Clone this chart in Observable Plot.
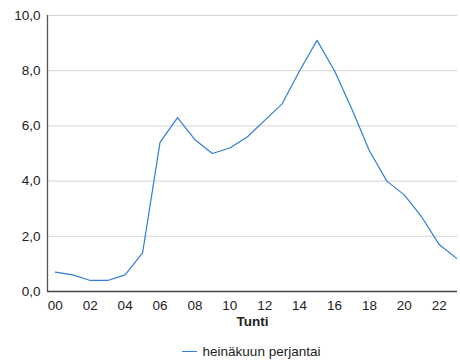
<!DOCTYPE html>
<html>
<head>
<meta charset="utf-8">
<script src="https://cdn.jsdelivr.net/npm/d3@7"></script>
<script src="https://cdn.jsdelivr.net/npm/@observablehq/plot@0.6"></script>
<style>
  html, body { margin: 0; padding: 0; background: #fff; }
  body { width: 460px; height: 362px; overflow: hidden; font-family: "Liberation Sans", Arial, sans-serif; }
  #legend { height: 30px; display: flex; justify-content: center; align-items: center; font-size: 13.5px; color: #222; padding-top: 8px; padding-left: 42px; box-sizing: border-box; }
  #legend .sw { display: inline-block; width: 15px; height: 0; border-top: 1.2px solid #2f7ed8; margin-right: 6px; }
</style>
</head>
<body>
<div id="chart"></div>
<div id="legend"><span class="sw"></span><span>heinäkuun perjantai</span></div>
<script>
const hours = [0,1,2,3,4,5,6,7,8,9,10,11,12,13,14,15,16,17,18,19,20,21,22,23];
const values = [0.7,0.6,0.4,0.4,0.6,1.4,5.4,6.3,5.5,5.0,5.2,5.6,6.2,6.8,8.0,9.1,8.0,6.6,5.1,4.0,3.5,2.7,1.7,1.2];
const xTicks = [0,2,4,6,8,10,12,14,16,18,20,22];
const yTicks = [0,2,4,6,8,10];
const seriesName = "heinäkuun perjantai";
const xLabel = "Tunti";

const data = hours.map((h, i) => ({hour: h, value: values[i]}));
const fmt = d => d.toFixed(1).replace(".", ",");

const chart = Plot.plot({
  width: 460,
  height: 332,
  marginTop: 15,
  marginLeft: 47,
  marginRight: 3,
  marginBottom: 41,
  style: {fontFamily: "'Liberation Sans', Arial, sans-serif", fontSize: "13.5px", color: "#222", background: "#fff"},
  x: {domain: [-0.45, 23.05], ticks: xTicks, tickFormat: d => String(d).padStart(2, "0")},
  y: {domain: [0, 10], ticks: yTicks, tickFormat: fmt},
  marks: [
    Plot.gridY(yTicks, {stroke: "#d4d4d4", strokeOpacity: 1, strokeWidth: 1}),
    Plot.axisY({ticks: yTicks, tickFormat: fmt, tickSize: 0, tickPadding: 7, label: null, fontSize: 13.5, fill: "#222"}),
    Plot.axisX({ticks: xTicks, tickFormat: d => String(d).padStart(2, "0"), tickSize: 0, tickPadding: 9, label: null, fontSize: 13.5, fill: "#222"}),
    Plot.text([xLabel], {frameAnchor: "bottom", dy: 34, text: d => d, fontWeight: "bold", fontSize: 13.5, fill: "#222"}),
    Plot.ruleX([-0.45], {stroke: "#555", strokeWidth: 1.3}),
    Plot.ruleY([0], {stroke: "#444", strokeWidth: 1.5}),
    Plot.line(data, {x: "hour", y: "value", stroke: "#2f7ed8", strokeWidth: 1.2})
  ]
});
document.getElementById("chart").appendChild(chart);
</script>
</body>
</html>
